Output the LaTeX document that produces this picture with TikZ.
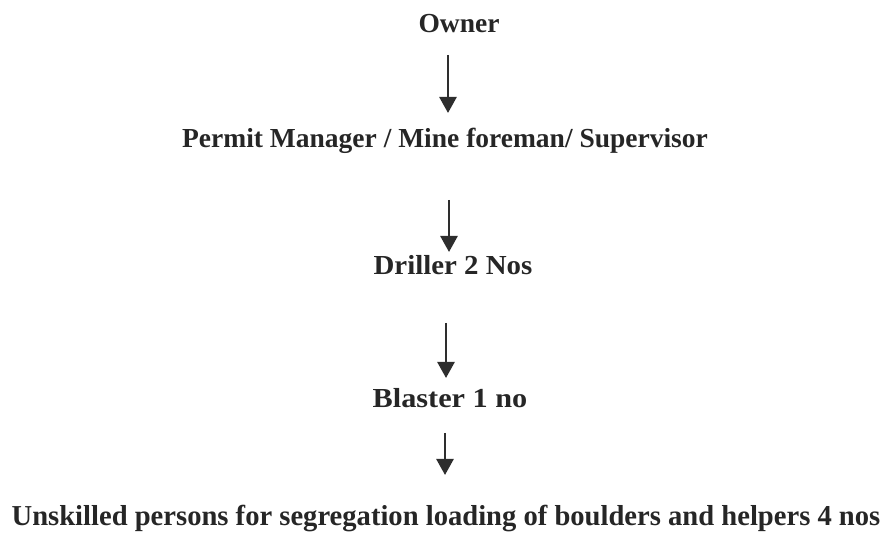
\documentclass[tikz,border=0pt]{standalone}
\usepackage{fontspec}
\setmainfont{Liberation Serif}
\usetikzlibrary{arrows.meta}
\begin{document}
\begin{tikzpicture}[x=1pt,y=1pt,
  lbl/.style={inner sep=0pt, anchor=base, font=\fontsize{27.5}{30}\selectfont\bfseries, text=black!85},
  arr/.style={line width=2.6pt, draw=black!82, -{Triangle[length=16pt,width=17pt]}}]
\useasboundingbox (0,0) rectangle (887,537);
\node[lbl] (owner) at (459,504) {Owner};
\node[lbl] (permit) at (445,389) {Permit Manager / Mine foreman/ Supervisor};
\node[lbl] (driller) at (453,262) {\scalebox{1.05}[1]{Driller 2 Nos}};
\node[lbl] (blaster) at (450,129) {\scalebox{1.1}[1]{Blaster 1 no}};
\node[lbl] (unsk) at (446,11) {\scalebox{1.04}[1.05]{Unskilled persons for segregation loading of boulders and helpers 4 nos}};
\coordinate (a1s) at (448,482); \coordinate (a1e) at (448,424);
\coordinate (a2s) at (449,337); \coordinate (a2e) at (449,285);
\coordinate (a3s) at (446,214); \coordinate (a3e) at (446,159);
\coordinate (a4s) at (445,104); \coordinate (a4e) at (445,62);
\draw[arr] (a1s) -- (a1e);
\draw[arr] (a2s) -- (a2e);
\draw[arr] (a3s) -- (a3e);
\draw[arr] (a4s) -- (a4e);
\end{tikzpicture}
\end{document}
